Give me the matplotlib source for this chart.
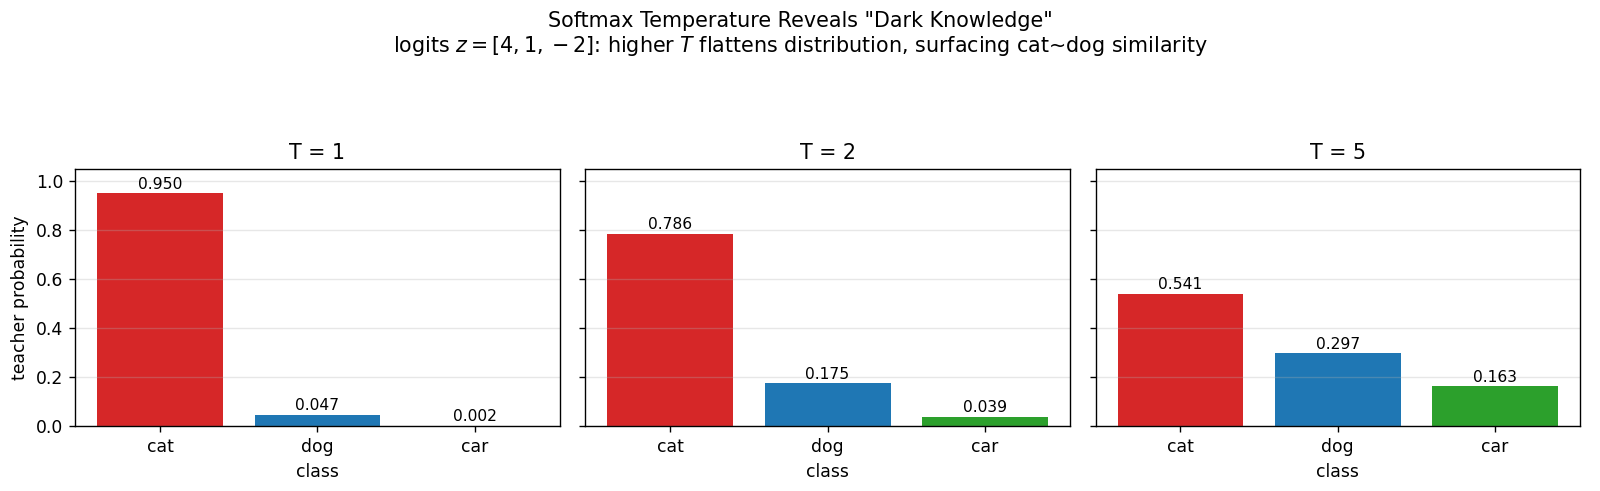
import matplotlib
matplotlib.use("Agg")
import matplotlib.pyplot as plt

# softmax outputs of the teacher for logits z = [4, 1, -2]
classes = ["cat", "dog", "car"]
temps = [1, 2, 5]
probs_T1 = [0.950, 0.047, 0.002]
probs_T2 = [0.786, 0.175, 0.039]
probs_T5 = [0.541, 0.297, 0.163]
colors = ["tab:red", "tab:blue", "tab:green"]

all_probs = [probs_T1, probs_T2, probs_T5]

DPI = 124
fig, axes = plt.subplots(1, 3, figsize=(1600/DPI, 491/DPI), dpi=DPI, sharey=True)
fig.subplots_adjust(left=0.047, right=0.9875, top=0.656, bottom=0.132, wspace=0.053)

for ax, T, p in zip(axes, temps, all_probs):
    bars = ax.bar(classes, p, color=colors)
    ax.bar_label(bars, fmt="%.3f", fontsize=9, padding=1)
    ax.set_title("T = %g" % T, fontsize=12)
    ax.set_xlabel("class")
    ax.set_ylim(0, 1.05)
    ax.grid(axis="y", alpha=0.3)

axes[0].set_ylabel("teacher probability")

fig.suptitle('Softmax Temperature Reveals "Dark Knowledge"\n'
             'logits $z=[4,1,-2]$: higher $T$ flattens distribution, surfacing cat~dog similarity',
             fontsize=12, y=0.978, va="top")

fig.savefig("out.png", dpi=DPI)
